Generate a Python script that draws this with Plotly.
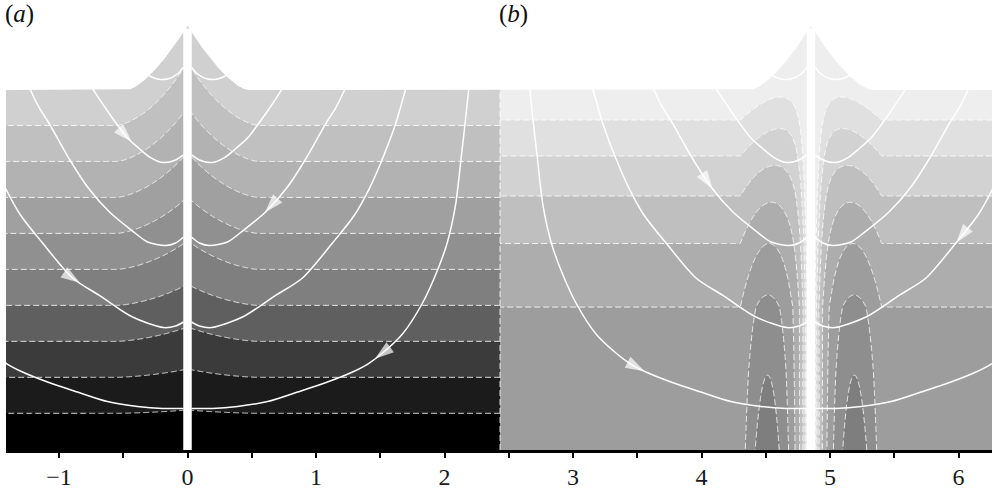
import numpy as np
import plotly.graph_objects as go

# ---------------- axis / layout values ----------------
x_range = [-1.4125, 6.2607]
y_range = [0.0, 3.502]
tick_vals = [-1, 0, 1, 2, 3, 4, 5, 6]
tick_text = ["\u22121", "0", "1", "2", "3", "4", "5", "6"]

wall_a = 0.0          # wall position, panel (a)
wall_b = 4.852        # wall position, panel (b)
divider = 2.432       # boundary between the two panels
wall_half = 0.033
wall_top = 3.28

# free surface (flat level + cusp at the wall)
surf_flat = 2.8016
surf_rise = 0.50
surf_width = 0.47
surf_power = 1.5

# ---------------- panel (a): stratification ----------------
levels_a_start = 0.2856
levels_a_step = 0.28
levels_a_count = 9
colors_a = ["#000000", "#1b1b1b", "#3b3b3b", "#5f5f5f", "#7f7f7f",
            "#909090", "#a0a0a0", "#b2b2b2", "#c0c0c0", "#d0d0d0"]
lift_a_max = 0.45
lift_a_width = 0.55
lift_a_power = 1.5

# ---------------- panel (b): stratification + near-wall lobes ----------------
far_Y_b = [0.0, 1.113, 1.607, 1.977, 2.288, 2.568, 2.80, 3.6]
far_B_b = [0.6, 1.0, 2.0, 3.0, 4.0, 5.0, 6.0, 8.9]
lobe_Y = [0.0, 0.584, 1.206, 1.611, 1.93, 2.218, 2.506, 2.8, 3.6]
lobe_amp = [2.1, 1.81, 1.19, 1.0, 0.87, 0.77, 0.78, 0.8, 0.8]
lobe_inner_Y = [0.0, 1.2, 1.6, 1.93, 2.22, 2.5, 2.8, 3.6]
lobe_inner = [0.13, 0.12, 0.10, 0.06, 0.0, -0.1, -0.14, -0.14]
lobe_outer = 0.55
wall_amp = 3.0
wall_decay = 0.04
levels_b_start = -1.0
levels_b_step = 1.0
levels_b_count = 7
colors_b = ["#7e7e7e", "#8e8e8e", "#9d9d9d", "#adadad",
            "#bfbfbf", "#d2d2d2", "#e0e0e0", "#eeeeee"]

# ---------------- rays (distance from wall, height) ----------------
ray1_d = [0.031, 0.078, 0.156, 0.233, 0.296, 0.350]
ray1_y = [2.981, 2.926, 2.887, 2.887, 2.911, 2.957]
ray2_d = [0.031, 0.093, 0.187, 0.288, 0.381, 0.467, 0.545, 0.623, 0.732, 0.778]
ray2_y = [2.296, 2.257, 2.237, 2.276, 2.350, 2.428, 2.529, 2.638, 2.802, 2.879]
ray3_d = [0.031, 0.093, 0.171, 0.311, 0.428, 0.607, 0.778, 0.934, 1.074, 1.152, 1.222, 1.261]
ray3_y = [1.658, 1.611, 1.591, 1.619, 1.704, 1.852, 2.047, 2.288, 2.537, 2.661, 2.802, 2.895]
ray4_d = [0.031, 0.093, 0.187, 0.428, 0.677, 0.895, 1.128, 1.300, 1.409, 1.494, 1.619, 1.696, 1.743]
ray4_y = [0.996, 0.965, 0.953, 1.035, 1.198, 1.339, 1.611, 1.829, 2.023, 2.210, 2.537, 2.802, 2.957]
ray5_d = [0.031, 0.195, 0.389, 0.623, 0.856, 1.089, 1.284, 1.409, 1.518, 1.673, 1.829,
          1.946, 2.023, 2.086, 2.132, 2.163, 2.187, 2.202]
ray5_y = [0.323, 0.323, 0.339, 0.377, 0.451, 0.529, 0.607, 0.673, 0.755, 0.903, 1.144,
          1.401, 1.619, 1.907, 2.296, 2.568, 2.802, 3.035]
rays = [(ray1_d, ray1_y), (ray2_d, ray2_y), (ray3_d, ray3_y), (ray4_d, ray4_y), (ray5_d, ray5_y)]

# arrows: (wall, side, ray index, distance of the tip from the wall)
arrow_wall = [wall_a, wall_a, wall_a, wall_a, wall_b, wall_b, wall_b]
arrow_side = [-1, 1, -1, 1, -1, 1, -1]
arrow_ray = [2, 3, 4, 5, 3, 4, 5]
arrow_d = [0.434, 0.603, 0.837, 1.459, 0.764, 1.13, 1.296]


def grid_x(x0, x1, wall, coarse, fine, near=0.75):
    parts = [np.arange(x0, x1, coarse),
             np.arange(max(x0, wall - near), min(x1, wall + near), fine),
             np.array([x0, x1])]
    return np.unique(np.round(np.concatenate(parts), 5))


Yg = np.arange(0.0, 3.51, 0.008)

# panel (a) field
xa = grid_x(x_range[0], divider, wall_a, 0.02, 0.004)
Da = np.abs(xa - wall_a)[None, :]
S = lift_a_max * (Yg / surf_flat) ** 1.3
fa = np.clip(1 - Da / lift_a_width, 0, None) ** lift_a_power
za = (Yg[:, None] - S[:, None] * fa).astype(np.float32)

# panel (b) field
xb = grid_x(divider, x_range[1], wall_b, 0.02, 0.003)
Db = np.abs(xb - wall_b)[None, :]
Bb = np.interp(Yg, far_Y_b, far_B_b)[:, None]
mb = np.interp(Yg, lobe_Y, lobe_amp)[:, None]
bb = np.interp(Yg, lobe_inner_Y, lobe_inner)[:, None]
arg = (lobe_outer - Db) / (lobe_outer - bb)
bump = np.where(Db < lobe_outer, -mb * np.sin(np.pi * arg), 0.0)
Wb = wall_amp * np.exp(-(Db - wall_half) / wall_decay)
zb = (Bb + bump + Wb).astype(np.float32)


def scale(colors):
    n = len(colors) - 1
    return [[i / n, c] for i, c in enumerate(colors)]


line_style = dict(color="rgba(255,255,255,0.85)", width=1, dash="6px,3px")

fig = go.Figure()
for x, z, st, sz, n, cols in [
    (xa, za, levels_a_start, levels_a_step, levels_a_count, colors_a),
    (xb, zb, levels_b_start, levels_b_step, levels_b_count, colors_b),
]:
    fig.add_trace(go.Contour(
        x=x, y=Yg, z=z,
        contours=dict(start=st, end=st + (n - 1) * sz + 0.001 * sz, size=sz,
                      coloring="fill", showlines=True),
        line=line_style,
        colorscale=scale(cols),
        zmin=st - sz / 2, zmax=st + (n - 0.5) * sz,
        showscale=False, hoverinfo="skip",
    ))

# white region above the free surface
xs = np.unique(np.concatenate([
    np.linspace(x_range[0] - 0.05, x_range[1] + 0.05, 1200),
    np.linspace(wall_a - 0.5, wall_a + 0.5, 400),
    np.linspace(wall_b - 0.5, wall_b + 0.5, 400),
]))
ds = np.minimum(np.abs(xs - wall_a), np.abs(xs - wall_b))
ys = surf_flat + surf_rise * np.clip(1 - ds / surf_width, 0, None) ** surf_power
fig.add_trace(go.Scatter(
    x=np.concatenate([xs, [xs[-1], xs[0]]]),
    y=np.concatenate([ys, [4.0, 4.0]]),
    fill="toself", fillcolor="white", mode="lines",
    line=dict(width=0, color="white"), hoverinfo="skip",
))

# panel divider
fig.add_trace(go.Scatter(
    x=[divider, divider], y=[0, surf_flat], mode="lines",
    line=dict(color="rgba(255,255,255,0.85)", width=1, dash="6px,3px"),
    hoverinfo="skip",
))

# rays
for w in (wall_a, wall_b):
    for side in (-1, 1):
        for rd, ry in rays:
            fig.add_trace(go.Scatter(
                x=[w + side * d for d in rd], y=ry, mode="lines",
                line=dict(color="white", width=1.5, shape="spline", smoothing=0.8),
                hoverinfo="skip",
            ))

# arrow heads
for w, side, ri, d in zip(arrow_wall, arrow_side, arrow_ray, arrow_d):
    rd, ry = rays[ri - 1]
    d_tail = d + 0.05
    y_head = float(np.interp(d, rd, ry))
    y_tail = float(np.interp(d_tail, rd, ry))
    fig.add_trace(go.Scatter(
        x=[w + side * d_tail, w + side * d], y=[y_tail, y_head], mode="markers",
        marker=dict(symbol="arrow", size=[0, 20], angleref="previous",
                    color="white", line=dict(width=0)),
        hoverinfo="skip",
    ))

# walls
for w in (wall_a, wall_b):
    fig.add_shape(type="rect", x0=w - wall_half, x1=w + wall_half, y0=0, y1=wall_top,
                  fillcolor="white", line=dict(width=0), layer="above")

serif = "Liberation Serif"
fig.add_annotation(text="(<i>a</i>)", xref="paper", yref="paper", x=0, y=1,
                   xanchor="left", yanchor="top", xshift=-3, yshift=2, showarrow=False,
                   font=dict(family=serif, size=25, color="#111"))
fig.add_annotation(text="(<i>b</i>)", xref="x", yref="paper", x=divider, y=1,
                   xanchor="left", yanchor="top", xshift=-3, yshift=2, showarrow=False,
                   font=dict(family=serif, size=25, color="#111"))

fig.update_layout(
    width=992, height=489,
    margin=dict(l=6, r=0, t=0, b=39, autoexpand=False),
    paper_bgcolor="white", plot_bgcolor="white",
    showlegend=False,
    xaxis=dict(range=x_range, tickvals=tick_vals, ticktext=tick_text,
               automargin=False,
               showgrid=False, zeroline=False, showline=True, linewidth=3,
               linecolor="black", ticks="outside", ticklen=5, tickwidth=1.5,
               tickcolor="black", ticklabelstandoff=-2,
               minor=dict(dtick=0.5, tick0=0, ticks="outside", ticklen=5,
                          tickwidth=1.5, tickcolor="black"),
               tickfont=dict(family=serif, size=24, color="#1a1a1a"),
               fixedrange=True),
    yaxis=dict(range=y_range, visible=False, fixedrange=True, automargin=False),
)

fig.write_html("out.html")
